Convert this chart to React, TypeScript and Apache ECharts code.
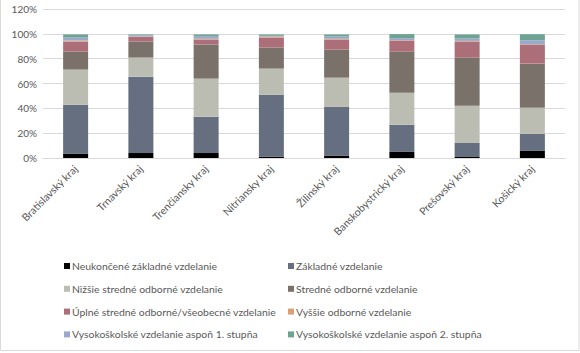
import React, { useEffect, useRef } from "react";
import * as echarts from "echarts";

const categories = [
  "Bratislavský kraj",
  "Trnavský kraj",
  "Trenčiansky kraj",
  "Nitriansky kraj",
  "Žilinský kraj",
  "Banskobystrický kraj",
  "Prešovský kraj",
  "Košický kraj",
];

const seriesNames = [
  "Neukončené základné vzdelanie",
  "Základné vzdelanie",
  "Nižšie stredné odborné vzdelanie",
  "Stredné odborné vzdelanie",
  "Úplné stredné odborné/všeobecné vzdelanie",
  "Vyššie odborné vzdelanie",
  "Vysokoškolské vzdelanie aspoň 1. stupňa",
  "Vysokoškolské vzdelanie aspoň 2. stupňa",
];

const neukoncene = [3.5, 4.0, 4.0, 1.1, 1.9, 4.9, 0.8, 5.7];
const zakladne = [39.4, 61.5, 29.2, 49.8, 39.3, 21.8, 11.3, 13.7];
const nizsieStredne = [28.3, 15.4, 30.7, 21.1, 23.5, 25.9, 29.9, 21.0];
const stredne = [14.5, 12.9, 27.5, 16.9, 22.6, 33.1, 38.9, 35.6];
const uplneStredne = [8.1, 3.8, 4.0, 8.1, 8.1, 8.9, 12.9, 15.4];
const vyssie = [0.8, 0.3, 0.6, 0.8, 0.6, 0.3, 0.5, 0.2];
const vs1 = [2.4, 1.0, 2.1, 0.6, 1.8, 1.6, 1.9, 3.2];
const vs2 = [2.5, 0.6, 1.4, 1.1, 1.7, 3.3, 3.3, 4.9];

const seriesData = [neukoncene, zakladne, nizsieStredne, stredne, uplneStredne, vyssie, vs1, vs2];

const colors = [
  "#000000",
  "#666f80",
  "#bcbdb2",
  "#7a716a",
  "#ac6e78",
  "#d9a077",
  "#9aa9cb",
  "#6ea393",
];

const yTicks = [0, 20, 40, 60, 80, 100, 120];

export default function App() {
  const ref = useRef<HTMLDivElement>(null);
  useEffect(() => {
    if (!ref.current) return;
    const chart = echarts.init(ref.current, null, { renderer: "svg" });
    const font = "Lato, 'Noto Sans', sans-serif";
    const legendCommon = {
      orient: "vertical" as const,
      top: 256,
      itemWidth: 6,
      itemHeight: 6,
      itemGap: 12.8,
      icon: "rect",
      textStyle: { color: "#595959", fontSize: 10.4, fontFamily: font, padding: [0, 0, 0, -3] },
      selectedMode: false,
    };
    chart.setOption({
      animation: false,
      backgroundColor: "#ffffff",
      grid: { left: 43, right: 15, top: 9, height: 149 },
      xAxis: {
        type: "category",
        data: categories,
        axisLine: { lineStyle: { color: "#d9d9d9" } },
        axisTick: { show: false },
        axisLabel: {
          rotate: 45,
          interval: 0,
          color: "#595959",
          fontSize: 10.5,
          fontFamily: font,
          margin: 9,
        },
      },
      yAxis: {
        type: "value",
        min: yTicks[0],
        max: yTicks[yTicks.length - 1],
        interval: 20,
        axisLine: { show: false },
        axisTick: { show: false },
        splitLine: { lineStyle: { color: "#d9d9d9" } },
        axisLabel: {
          formatter: "{value}%",
          color: "#595959",
          fontSize: 10,
          fontFamily: font,
          margin: 6,
        },
      },
      legend: [
        { ...legendCommon, left: 59, data: [0, 2, 4, 6].map((i) => seriesNames[i]) },
        { ...legendCommon, left: 283, data: [1, 3, 5, 7].map((i) => seriesNames[i]) },
      ],
      graphic: [
        {
          type: "rect",
          shape: { x: 0.5, y: -2, width: 578.5, height: 352.5 },
          style: { fill: "none", stroke: "#d9d9d9", lineWidth: 1 },
          silent: true,
        },
      ],
      series: seriesNames.map((name, i) => ({
        name,
        type: "bar",
        stack: "total",
        barWidth: 25,
        data: seriesData[i],
        itemStyle: { color: colors[i] },
      })),
    });
    return () => chart.dispose();
  }, []);
  return (
    <div
      ref={ref}
      style={{ position: "fixed", left: 0, top: 0, width: 580, height: 353 }}
    />
  );
}
